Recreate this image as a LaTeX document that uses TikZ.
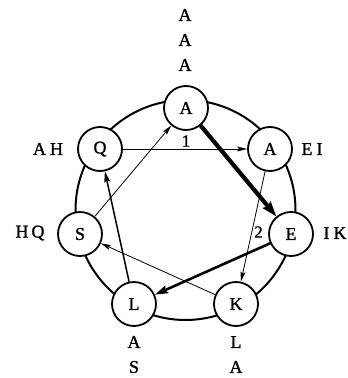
\documentclass[tikz,border=0pt]{standalone}
\usepackage{fontspec}
\setmainfont{Liberation Serif}
\newfontfamily\labfont{Liberation Serif}[FakeBold=1.2]
\usetikzlibrary{arrows.meta}
\tikzset{
  res/.style={circle,draw,line width=1.8pt,fill=white,minimum size=44pt,inner sep=0pt,font=\labfont\fontsize{18}{18}\selectfont},
  lab/.style={inner sep=0pt,font=\labfont\fontsize{18}{18}\selectfont},
  numlab/.style={inner sep=0pt,font=\labfont\fontsize{17}{17}\selectfont},
  thinarrow/.style={line width=0.8pt,-{Stealth[length=10pt,width=5pt,inset=2pt]}},
  midarrow/.style={line width=1.5pt,-{Stealth[length=11pt,width=6pt,inset=2pt]}},
  thickarrow/.style={line width=2.6pt,-{Stealth[length=13pt,width=8pt,inset=2pt]}},
  heavyarrow/.style={line width=4.2pt,-{Stealth[length=15pt,width=10pt,inset=2pt]}},
  ring/.style={line width=2pt}
}
\begin{document}
\begin{tikzpicture}[x=1pt,y=-1pt]
\useasboundingbox (0,0) rectangle (348,378);
\draw[ring] (185.5,210) circle[radius=110];
\node[res] (a1) at (186,108) {A};
\node[res] (q)  at (100,149) {Q};
\node[res] (a2) at (270,149) {A};
\node[res] (s)  at (80,234) {S};
\node[res] (e)  at (291,234) {E};
\node[res] (l)  at (134,304) {L};
\node[res] (k)  at (236,304) {K};
% outer labels
\node[lab] (t1) at (185,15) {A};
\node[lab] (t2) at (185,40) {A};
\node[lab] (t3) at (185,65) {A};
\node[lab] (lq) at (48,149) {A\hspace{4pt}H};
\node[lab] (la2) at (312,149) {E\hspace{4pt}I};
\node[lab] (ls) at (30,233) {H\hspace{3pt}Q};
\node[lab] (le) at (335,233) {I\hspace{4pt}K};
\node[lab] (lb1) at (134,342) {A};
\node[lab] (lb2) at (134,367) {S};
\node[lab] (kb1) at (236,342) {L};
\node[lab] (kb2) at (236,367) {A};
% connectors
\draw[thinarrow] (q) -- (a2);
\draw[thinarrow] (s) -- (a1);
\draw[midarrow] (l) -- (q);
\draw[thinarrow] (k) -- (s);
\draw[heavyarrow] (a1) -- (e);
\draw[thickarrow] (e) -- (l);
\draw[thinarrow] (a2) -- (k);
\node[numlab] (n1) at (186,141) {1};
\node[numlab] (n2) at (258.5,232) {2};
\end{tikzpicture}
\end{document}
